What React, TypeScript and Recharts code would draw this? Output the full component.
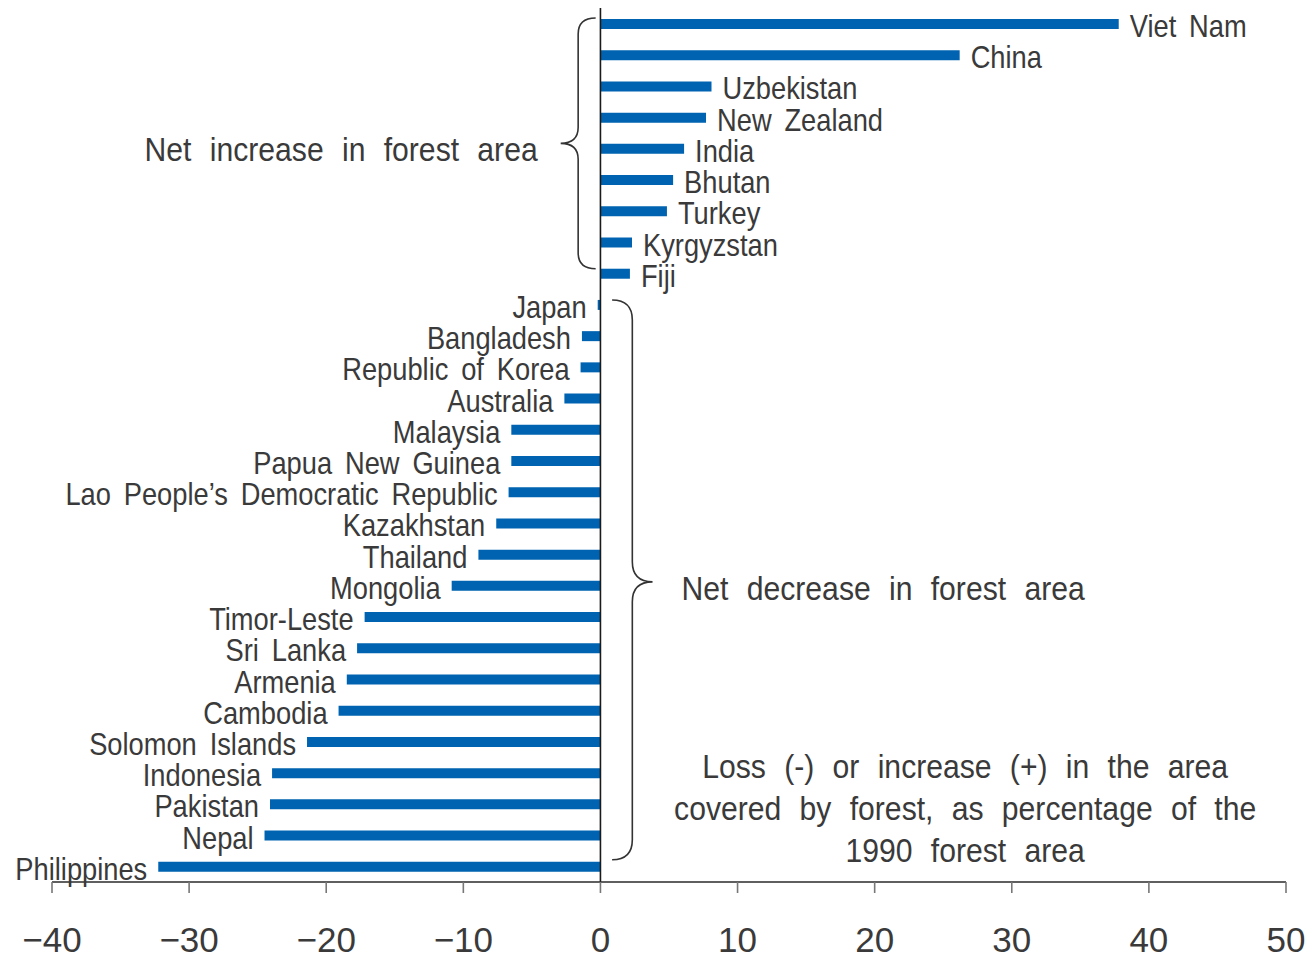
import React from 'react';
import { BarChart, Bar, XAxis, YAxis, LabelList, ReferenceLine, ReferenceArea } from 'recharts';

const countries = [
  'Viet Nam', 'China', 'Uzbekistan', 'New Zealand', 'India', 'Bhutan', 'Turkey', 'Kyrgyzstan', 'Fiji',
  'Japan', 'Bangladesh', 'Republic of Korea', 'Australia', 'Malaysia', 'Papua New Guinea',
  'Lao People\u2019s Democratic Republic', 'Kazakhstan', 'Thailand', 'Mongolia', 'Timor-Leste', 'Sri Lanka',
  'Armenia', 'Cambodia', 'Solomon Islands', 'Indonesia', 'Pakistan', 'Nepal', 'Philippines',
];
const changePct = [
  37.8, 26.2, 8.1, 7.7, 6.1, 5.3, 4.85, 2.3, 2.15,
  -0.2, -1.35, -1.45, -2.63, -6.5, -6.5,
  -6.7, -7.6, -8.9, -10.85, -17.2, -17.75,
  -18.5, -19.1, -21.4, -23.95, -24.1, -24.5, -32.25,
];
const xTicks = [-40, -30, -20, -10, 0, 10, 20, 30, 40, 50];
const increaseLabel = 'Net increase in forest area';
const decreaseLabel = 'Net decrease in forest area';
const noteLines = [
  'Loss (-) or increase (+) in the area',
  'covered by forest, as percentage of the',
  '1990 forest area',
];

const data = countries.map((c, i) => ({ country: c, value: changePct[i] }));

const FONT = "'Liberation Sans', Arial, sans-serif";
const TEXT_COLOR = '#3a3a3a';
const BAR_COLOR = '#0063b1';

const CText = (p: any) => {
  const { x, y, anchor, fs, sx, ws, dy, children } = p;
  return (
    <text
      transform={`translate(${x},${y}) scale(${sx},1)`}
      x={0}
      y={0}
      dy={dy}
      textAnchor={anchor}
      fontFamily={FONT}
      fontSize={fs}
      fill={TEXT_COLOR}
      style={{ wordSpacing: ws }}
    >
      {children}
    </text>
  );
};

const BarLabel = (props: any) => {
  const { x, y, width, height, value, index } = props;
  const pos = value >= 0;
  const end = pos ? Math.max(x, x + width) : Math.min(x, x + width);
  return (
    <CText x={pos ? end + 11 : end - 11} y={y + height / 2} dy="0.42em" anchor={pos ? 'start' : 'end'} fs={31} sx={0.88} ws={6}>
      {countries[index]}
    </CText>
  );
};

const XTick = (props: any) => {
  const { x, y, payload } = props;
  const v = payload.value as number;
  const s = v < 0 ? '\u2212' + Math.abs(v) : String(v);
  return (
    <text x={x} y={y} dy="1.03em" textAnchor="middle" fontFamily={FONT} fontSize={35} fill={TEXT_COLOR}>
      {s}
    </text>
  );
};

const LeftBrace = (props: any) => {
  const { x, y, width, height } = props;
  const top = y + 10;
  const bot = y + height + 11;
  const mid = (top + bot) / 2;
  const xp = x;
  const xe = x + width;
  const xc = x + width / 2;
  const r = 16;
  const d = `M ${xe} ${top} Q ${xc} ${top} ${xc} ${top + r} L ${xc} ${mid - r} Q ${xc} ${mid} ${xp} ${mid} Q ${xc} ${mid} ${xc} ${mid + r} L ${xc} ${bot - r} Q ${xc} ${bot} ${xe} ${bot}`;
  return (
    <g>
      <path d={d} fill="none" stroke="#333" strokeWidth={1.6} />
      <CText x={xp - 23} y={mid + 6} dy="0.36em" anchor="end" fs={33.5} sx={0.9} ws={11}>
        {increaseLabel}
      </CText>
    </g>
  );
};

const RightBrace = (props: any) => {
  const { x, y, width, height } = props;
  const top = y + 11;
  const bot = y + height + 9;
  const mid = (top + bot) / 2 + 2;
  const xe = x;
  const xp = x + width;
  const xc = x + width / 2;
  const r = 20;
  const d = `M ${xe} ${top} Q ${xc} ${top} ${xc} ${top + r} L ${xc} ${mid - r} Q ${xc} ${mid} ${xp} ${mid} Q ${xc} ${mid} ${xc} ${mid + r} L ${xc} ${bot - r} Q ${xc} ${bot} ${xe} ${bot}`;
  return (
    <g>
      <path d={d} fill="none" stroke="#333" strokeWidth={1.6} />
      <CText x={xp + 29} y={mid + 6} dy="0.36em" anchor="start" fs={33.5} sx={0.9} ws={11}>
        {decreaseLabel}
      </CText>
    </g>
  );
};

const Note = (props: any) => {
  const { x, y, width } = props;
  const cx = x + width / 2;
  return (
    <g>
      {noteLines.map((t, i) => (
        <CText key={i} x={cx} y={y + 9 + i * 42} dy="0.36em" anchor="middle" fs={33.5} sx={0.9} ws={11}>
          {t}
        </CText>
      ))}
    </g>
  );
};

export default function App() {
  return (
    <div style={{ position: 'absolute', left: 0, top: 0, width: 1307, height: 954, background: '#fff' }}>
      <BarChart
        width={1307}
        height={954}
        data={data}
        layout="vertical"
        margin={{ top: 8, right: 21, bottom: 0, left: 52 }}
      >
        <XAxis
          type="number"
          dataKey="value"
          domain={[-40, 50]}
          ticks={xTicks}
          allowDataOverflow
          height={72}
          axisLine={{ stroke: '#2a2a2a', strokeWidth: 1.6 }}
          tickLine={{ stroke: '#777', strokeWidth: 1.6 }}
          tickSize={11}
          tickMargin={23}
          tick={<XTick />}
          interval={0}
        />
        <YAxis type="category" dataKey="country" hide />
        <Bar dataKey="value" fill={BAR_COLOR} barSize={10} isAnimationActive={false}>
          <LabelList dataKey="value" content={<BarLabel />} />
        </Bar>
        <ReferenceLine x={0} stroke="#1a1a1a" strokeWidth={1.6} />
        <ReferenceArea x1={-2.9} x2={-0.35} y1="Viet Nam" y2="Kyrgyzstan" shape={<LeftBrace />} ifOverflow="visible" />
        <ReferenceArea x1={0.85} x2={3.8} y1="Japan" y2="Nepal" shape={<RightBrace />} ifOverflow="visible" />
        <ReferenceArea x1={16} x2={37.2} y1="Indonesia" y2="Nepal" shape={<Note />} ifOverflow="visible" />
      </BarChart>
    </div>
  );
}
